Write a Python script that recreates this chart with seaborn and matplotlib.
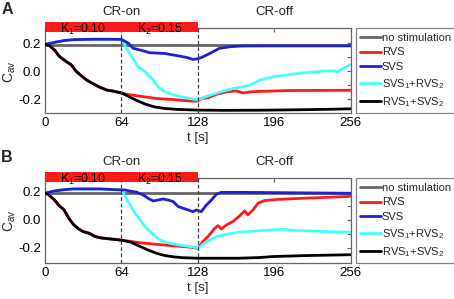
import numpy as np
import pandas as pd
import matplotlib
matplotlib.use("Agg")
import matplotlib.pyplot as plt
import matplotlib.transforms as mtransforms
from matplotlib.patches import Rectangle
import seaborn as sns

# ---------------- data ----------------
series_names = ["no stimulation", "RVS", "SVS", "SVS$_1$+RVS$_2$", "RVS$_1$+SVS$_2$"]
series_colors = ["#666666", "#ff1a1a", "#1f1fd8", "#44ffff", "#000000"]

x_ticks = [0, 64, 128, 192, 256]
x_tick_labels = ["0", "64", "128", "196", "256"]
y_ticks = [-0.2, -0.1, 0.0, 0.1, 0.2]
y_tick_labels = ["-0.2", "", "0.0", "", "0.2"]
phase_labels = ["CR-on", "CR-off"]
k_labels = ["K$_1$=0.10", "K$_2$=0.15"]
panel_labels = ["A", "B"]

# ---- Panel A ----
a_nostim_t = [0, 256]
a_nostim_c = [0.186, 0.186]

a_early_t = [0, 4, 8, 12, 18, 22, 26, 30, 35, 40, 46, 52, 57, 64]
a_early_c = [0.19, 0.18, 0.15, 0.105, 0.067, 0.045, 0.0, -0.03, -0.064, -0.088, -0.115, -0.135, -0.142, -0.155]

a_rvs_t = a_early_t + [68, 80, 94, 107, 121, 128, 131, 137, 144, 152, 160, 166, 172, 183, 205, 230, 256]
a_rvs_c = a_early_c + [-0.164, -0.179, -0.195, -0.202, -0.212, -0.214, -0.195, -0.188, -0.164, -0.148,
                       -0.14, -0.155, -0.148, -0.143, -0.138, -0.137, -0.136]

a_rvs_svs_t = a_early_t + [70, 76, 84, 92, 100, 110, 120, 128, 150, 180, 210, 235, 256]
a_rvs_svs_c = a_early_c + [-0.18, -0.205, -0.235, -0.255, -0.265, -0.272, -0.275, -0.277, -0.279,
                           -0.278, -0.275, -0.272, -0.268]

a_up_t = [0, 8, 16, 24, 40, 55, 64]
a_up_c = [0.19, 0.205, 0.218, 0.224, 0.227, 0.227, 0.226]

a_svs_t = a_up_t + [66, 70, 74, 80, 88, 100, 113, 120, 124, 128, 132, 138, 146, 155, 165, 190, 256]
a_svs_c = a_up_c + [0.217, 0.198, 0.162, 0.15, 0.131, 0.126, 0.107, 0.095, 0.083, 0.088, 0.1, 0.126,
                    0.162, 0.174, 0.179, 0.18, 0.18]

a_svs_rvs_t = a_up_t + [66.6, 71, 75.5, 78, 84, 89.5, 95, 100.7, 106, 114.6, 122, 128, 132.5, 141, 149,
                        157.5, 166, 171.5, 180, 191, 205, 219, 233, 241, 245, 250, 256]
a_svs_rvs_c = a_up_c + [0.186, 0.126, 0.067, 0.031, -0.005, -0.052, -0.112, -0.148, -0.164, -0.183,
                        -0.195, -0.205, -0.188, -0.164, -0.143, -0.124, -0.112, -0.1, -0.064, -0.04,
                        -0.024, -0.01, 0.0, 0.002, -0.003, 0.02, 0.048]

# ---- Panel B ----
b_nostim_t = [0, 256]
b_nostim_c = [0.19, 0.19]

b_early_t = [0, 3, 8, 12, 16, 20, 24, 28, 32, 37, 42, 47, 52, 58, 64]
b_early_c = [0.19, 0.18, 0.14, 0.1, 0.07, 0.01, -0.035, -0.065, -0.085, -0.097, -0.12, -0.13, -0.135, -0.14, -0.146]

b_rvs_t = b_early_t + [72, 80, 95, 110, 122, 128, 132.4, 136.6, 142.2, 145, 147.8, 152, 157.5, 163,
                       167.3, 170, 174.3, 178.5, 184, 196.6, 219, 256]
b_rvs_c = b_early_c + [-0.155, -0.165, -0.177, -0.188, -0.196, -0.204, -0.156, -0.12, -0.061, -0.042,
                       -0.066, -0.037, -0.013, 0.027, 0.063, 0.034, 0.07, 0.118, 0.137, 0.146, 0.154, 0.167]

b_rvs_svs_t = b_early_t + [72, 79.5, 86, 93.5, 100, 107.4, 115, 128, 163, 180, 191, 219, 256]
b_rvs_svs_c = b_early_c + [-0.16, -0.19, -0.215, -0.24, -0.255, -0.265, -0.271, -0.275, -0.275,
                           -0.27, -0.263, -0.256, -0.25]

b_up_t = [0, 8, 16, 24, 46, 64]
b_up_c = [0.19, 0.205, 0.215, 0.22, 0.22, 0.213]

b_svs_t = b_up_t + [66.8, 71, 76.7, 82.3, 86.4, 90.6, 94.8, 99, 103, 107.4, 111.6, 115.7, 119.9, 124,
                    127, 131, 135.3, 139.5, 143.6, 147.8, 163, 256]
b_svs_c = b_up_c + [0.213, 0.205, 0.197, 0.177, 0.153, 0.134, 0.141, 0.148, 0.141, 0.13, 0.094, 0.082,
                    0.07, 0.058, 0.07, 0.058, 0.106, 0.141, 0.182, 0.196, 0.196, 0.189]

b_svs_rvs_t = b_up_t + [66.6, 71.3, 75.5, 79.7, 83.9, 89.5, 95, 100.7, 111.8, 127.2, 128.5, 132.4, 138,
                        143.6, 152, 163, 177, 199.4, 210.6, 233, 256]
b_svs_rvs_c = b_up_c + [0.177, 0.106, 0.046, -0.001, -0.049, -0.096, -0.137, -0.161, -0.18, -0.199,
                        -0.204, -0.175, -0.144, -0.12, -0.104, -0.089, -0.08, -0.068, -0.077, -0.084, -0.089]

panel_series = {
    "A": [(a_nostim_t, a_nostim_c), (a_rvs_t, a_rvs_c), (a_svs_t, a_svs_c),
          (a_svs_rvs_t, a_svs_rvs_c), (a_rvs_svs_t, a_rvs_svs_c)],
    "B": [(b_nostim_t, b_nostim_c), (b_rvs_t, b_rvs_c), (b_svs_t, b_svs_c),
          (b_svs_rvs_t, b_svs_rvs_c), (b_rvs_svs_t, b_rvs_svs_c)],
}

rows = []
for panel, lst in panel_series.items():
    for name, (ts, cs) in zip(series_names, lst):
        for t, c in zip(ts, cs):
            rows.append({"panel": panel, "series": name, "t": t, "C": c})
df = pd.DataFrame(rows)

# ---------------- style ----------------
sns.set_theme(style="white")
plt.rcParams["font.family"] = ["Liberation Sans", "DejaVu Sans"]
plt.rcParams["mathtext.fontset"] = "custom"
plt.rcParams["mathtext.rm"] = "Liberation Sans"
plt.rcParams["mathtext.it"] = "Liberation Sans:italic"
plt.rcParams["mathtext.bf"] = "Liberation Sans:bold"
plt.rcParams["mathtext.default"] = "regular"

W, H = 454, 299
fig = plt.figure(figsize=(W / 100, H / 100), dpi=100)

# axes rects in pixel coords: left, top, right, bottom
rects = {"A": (45, 28.3, 350.5, 113.3), "B": (45, 178.3, 350.5, 262.7)}
ylims = {"A": (-0.30, 0.305), "B": (-0.307, 0.296)}
legend_tops = {"A": 28.3, "B": 178.3}
label_pos = {"A": (7, 9), "B": (7, 158)}
ylabel_y = {"A": 72, "B": 221}

spine_col = "#666666"

for panel in panel_labels:
    l, t, r, b = rects[panel]
    ax = fig.add_axes([l / W, 1 - b / H, (r - l) / W, (b - t) / H])
    sub = df[df["panel"] == panel]
    sns.lineplot(data=sub, x="t", y="C", hue="series", hue_order=series_names,
                 palette=series_colors, estimator=None, sort=True, linewidth=2.0,
                 legend=False, ax=ax)
    lines = ax.get_lines()[:5]
    lines[2].set_zorder(2.6)
    lines[3].set_zorder(2.5)
    lines[4].set_zorder(2.7)

    ax.set_xlim(0, 256)
    ax.set_ylim(*ylims[panel])
    ax.set_xticks(x_ticks)
    ax.set_xticklabels(x_tick_labels)
    ax.set_yticks(y_ticks)
    ax.set_yticklabels(y_tick_labels)
    ax.set_xlabel("")
    ax.set_ylabel("")
    ax.tick_params(direction="in", top=True, right=True, length=3, width=0.8,
                   color=spine_col, labelsize=9.5, pad=3, labelcolor="black")
    for s in ax.spines.values():
        s.set_visible(True)
        s.set_color(spine_col)
        s.set_linewidth(0.9)

    # dashed phase boundaries
    for xv in (64, 128):
        ax.axvline(xv, color="#404040", lw=0.9, ls=(0, (3, 2)), zorder=3)

    # red stimulation bar
    trans = mtransforms.blended_transform_factory(ax.transData, ax.transAxes)
    hpx = b - t
    bar_bot = (b - (t + 4)) / hpx
    bar_top = (b - (t - 6.0)) / hpx
    ax.add_patch(Rectangle((0, bar_bot), 128, bar_top - bar_bot, transform=trans,
                           facecolor="#ff1a1a", edgecolor="none", clip_on=False, zorder=5))
    bar_mid = (b - (t + 1.0)) / hpx
    ax.text(32, bar_mid, k_labels[0], transform=trans, ha="center", va="center",
            fontsize=8.8, color="black", zorder=6)
    ax.text(96, bar_mid, k_labels[1], transform=trans, ha="center", va="center",
            fontsize=8.8, color="black", zorder=6)

    # phase labels
    ph_y = (b - (t - 16)) / hpx
    ax.text(64, ph_y, phase_labels[0], transform=trans, ha="center", va="center", fontsize=9.5)
    ax.text(192, ph_y, phase_labels[1], transform=trans, ha="center", va="center", fontsize=9.5)

    # x axis label
    ax.text(128, (b - (b + 25)) / hpx, "t [s]", transform=trans, ha="center", va="center",
            fontsize=9.5)

    # y label
    fig.text(10 / W, 1 - ylabel_y[panel] / H, "C$_{av}$", rotation=90, ha="center",
             va="center", fontsize=10)

    # panel letter
    lx, ly = label_pos[panel]
    fig.text(lx / W, 1 - ly / H, panel, ha="center", va="center", fontsize=11.5,
             fontweight="bold")

    # legend
    leg = fig.legend(lines, series_names, loc="upper left",
                     bbox_to_anchor=(355.7 / W, 1 - legend_tops[panel] / H),
                     bbox_transform=fig.transFigure, frameon=True, fancybox=False,
                     fontsize=8.0, handlelength=1.9, handletextpad=0.05,
                     borderpad=0.4, labelspacing=0.42, borderaxespad=0)
    leg.get_frame().set_edgecolor(spine_col)
    leg.get_frame().set_linewidth(0.9)
    for lh in leg.get_lines():
        lh.set_linewidth(2.0)

fig.savefig("out.png", dpi=100)
